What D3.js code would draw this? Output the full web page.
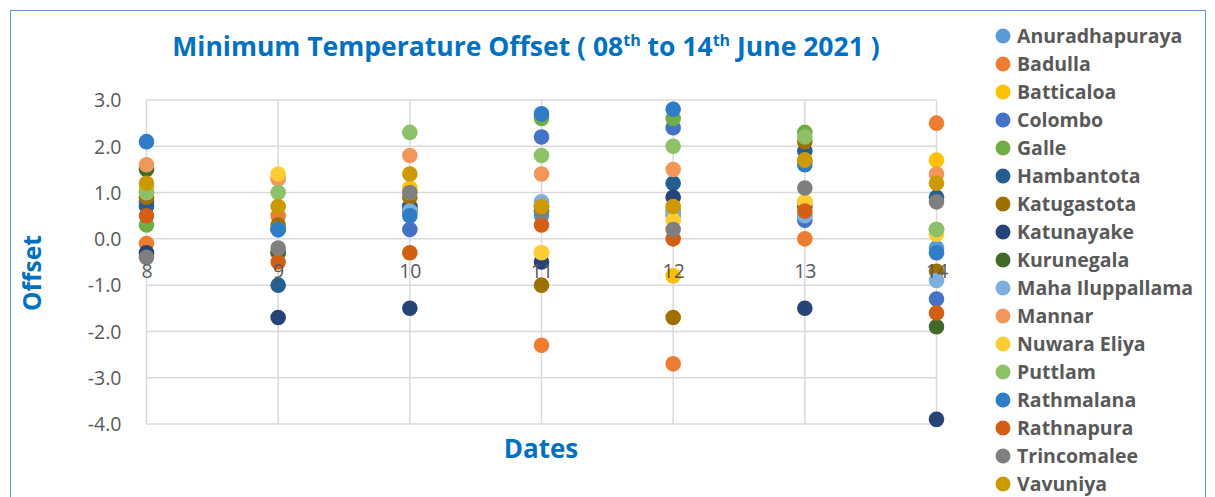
<!DOCTYPE html>
<html><head><meta charset="utf-8">
<script src="https://cdn.jsdelivr.net/npm/d3@7"></script>
<style>body{margin:0;background:#fff;}svg{display:block;}</style>
</head><body>
<svg id="c" width="1215" height="497"></svg>
<script>
const dates = [8, 9, 10, 11, 12, 13, 14];
const yTicks = [3, 2, 1, 0, -1, -2, -3, -4];
const stations = ["Anuradhapuraya","Badulla","Batticaloa","Colombo","Galle","Hambantota","Katugastota","Katunayake","Kurunegala","Maha Iluppallama","Mannar","Nuwara Eliya","Puttlam","Rathmalana","Rathnapura","Trincomalee","Vavuniya"];
const colors = ["#5B9BD5","#ED7D31","#FFC000","#4472C4","#70AD47","#255E91","#9E7000","#264478","#43682B","#7CAFDD","#F1975A","#FFCD33","#8CC168","#2E7DC6","#D35F14","#7F7F7F","#CC9A00"];
const anuradhapuraya = [0.8, 0.2, 0.6, 0.5, 0.5, 0.5, -0.2];
const badulla        = [-0.1, 0.5, 0.7, -2.3, -2.7, 0.0, 2.5];
const batticaloa     = [1.1, 1.3, 1.1, -0.3, -0.8, 0.8, 1.7];
const colombo        = [0.8, 0.2, 0.2, 2.2, 2.4, 0.4, -1.3];
const galle          = [0.3, -0.3, 0.6, 2.6, 2.6, 2.3, 0.2];
const hambantota     = [0.7, -1.0, 0.7, 0.7, 1.2, 1.9, 0.9];
const katugastota    = [0.9, 0.3, 0.9, -1.0, -1.7, 2.1, -0.7];
const katunayake     = [-0.3, -1.7, -1.5, -0.5, 0.9, -1.5, -3.9];
const kurunegala     = [1.5, -0.3, 0.6, 0.6, 0.6, 0.7, -1.9];
const mahaIluppallama= [1.0, 0.2, 0.6, 0.8, 0.6, 0.5, -0.9];
const mannar         = [1.6, 1.3, 1.8, 1.4, 1.5, 1.7, 1.4];
const nuwaraEliya    = [1.0, 1.4, 1.0, -0.3, 0.4, 0.8, 0.1];
const puttlam        = [1.0, 1.0, 2.3, 1.8, 2.0, 2.2, 0.2];
const rathmalana     = [2.1, 0.2, 0.5, 2.7, 2.8, 1.6, -0.3];
const rathnapura     = [0.5, -0.5, -0.3, 0.3, 0.0, 0.6, -1.6];
const trincomalee    = [-0.4, -0.2, 1.0, 0.6, 0.2, 1.1, 0.8];
const vavuniya       = [1.2, 0.7, 1.4, 0.7, 0.7, 1.7, 1.2];
const values = [anuradhapuraya,badulla,batticaloa,colombo,galle,hambantota,katugastota,katunayake,kurunegala,mahaIluppallama,mannar,nuwaraEliya,puttlam,rathmalana,rathnapura,trincomalee,vavuniya];

const svg = d3.select("#c");
const font = "'Open Sans', 'Liberation Sans', sans-serif";
svg.append("rect").attr("x",10.5).attr("y",10.5).attr("width",1195).attr("height",520)
  .attr("fill","none").attr("stroke","#5B9BD5").attr("stroke-width",1);

const x = d3.scaleLinear().domain([8,14]).range([146.5,936.5]);
const y = d3.scaleLinear().domain([-4,3]).range([424,100]);

// grid
svg.append("g").selectAll("line").data(yTicks).join("line")
  .attr("x1",x(8)).attr("x2",x(14)).attr("y1",d=>y(d)).attr("y2",d=>y(d))
  .attr("stroke","#D9D9D9").attr("stroke-width",1.5);
svg.append("g").selectAll("line").data(dates).join("line")
  .attr("x1",d=>x(d)).attr("x2",d=>x(d)).attr("y1",y(3)).attr("y2",y(-4))
  .attr("stroke","#D9D9D9").attr("stroke-width",1.5);

// y axis labels
const yAxis = svg.append("g").attr("transform",`translate(${x(8)-22},0)`)
  .call(d3.axisLeft(y).tickValues(yTicks).tickFormat(d=>d.toFixed(1)).tickSize(0));
yAxis.select(".domain").remove();
yAxis.selectAll("text").attr("font-family",font).attr("font-size",19.5).attr("fill","#595959").attr("dy","0.35em");

// points
const g = svg.append("g");
stations.forEach((s,i)=>{
  g.append("g").selectAll("circle").data(values[i]).join("circle")
    .attr("cx",(d,j)=>x(dates[j])).attr("cy",d=>y(d)).attr("r",7.8)
    .attr("fill",colors[i]);
});

// x axis labels (drawn near the zero crossing)
const xAxis = svg.append("g").attr("transform",`translate(0,${y(0)+32})`)
  .call(d3.axisBottom(x).tickValues(dates).tickFormat(d3.format("d")).tickSize(0));
xAxis.select(".domain").remove();
xAxis.selectAll("text").attr("font-family",font).attr("font-size",19.5).attr("fill","#595959").attr("dy","0.35em").attr("y",0);

// title
const t = svg.append("text").attr("x",526).attr("y",56).attr("text-anchor","middle")
  .attr("font-family",font).attr("font-weight","bold")
  .attr("font-size",26.5).attr("fill","#0070C0");
t.append("tspan").text("Minimum Temperature Offset ( 08");
t.append("tspan").attr("font-size",16).attr("dy",-10).text("th");
t.append("tspan").attr("dy",10).text(" to 14");
t.append("tspan").attr("font-size",16).attr("dy",-10).text("th");
t.append("tspan").attr("dy",10).text(" June 2021 )");

// axis titles
svg.append("text").attr("x",541).attr("y",458).attr("text-anchor","middle")
  .attr("font-family",font).attr("font-weight","bold").attr("font-size",26).attr("fill","#0070C0").text("Dates");
svg.append("text").attr("transform","translate(41,273) rotate(-90)").attr("text-anchor","middle")
  .attr("font-family",font).attr("font-weight","bold").attr("font-size",24.5).attr("fill","#0070C0").text("Offset");

// legend
const lg = svg.append("g");
stations.forEach((s,i)=>{
  const yy = 36 + i*28;
  lg.append("circle").attr("cx",1003).attr("cy",yy).attr("r",7.5).attr("fill",colors[i]);
  lg.append("text").attr("x",1017).attr("y",yy).attr("dy","0.35em")
    .attr("font-family",font).attr("font-weight","bold").attr("font-size",19.5).attr("fill","#595959").text(s);
});
</script>
</body></html>
